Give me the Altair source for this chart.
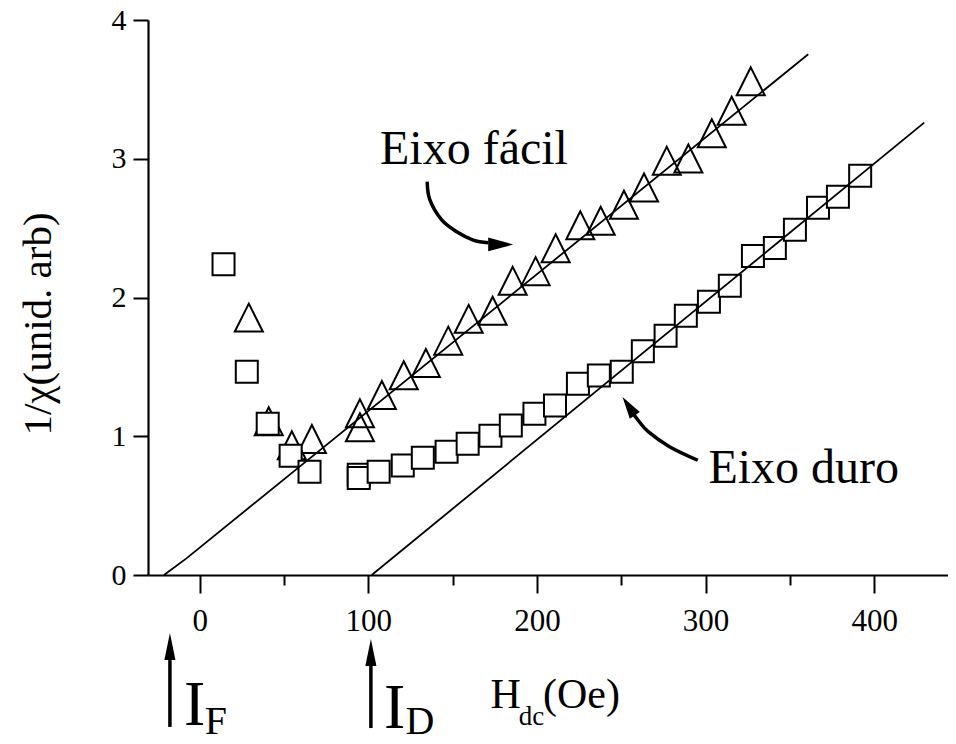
import altair as alt
import pandas as pd

# ---------------- data ----------------
# Easy axis ("Eixo fácil") – triangles
easy_h = [29.1, 40.9, 54.6, 66.5, 95.0, 95.0, 108.0, 121.0, 134.1, 147.4, 159.5, 173.7,
          185.6, 199.2, 211.1, 225.7, 237.8, 251.6, 263.5, 277.0, 289.8, 303.7, 315.5, 326.8]
easy_inv = [1.855, 1.108, 0.935, 0.98, 1.065, 1.165, 1.297, 1.44, 1.528, 1.689, 1.846, 1.904,
            2.12, 2.19, 2.355, 2.52, 2.553, 2.668, 2.793, 2.985, 3.002, 3.184, 3.346, 3.558]

# Hard axis ("Eixo duro") – squares
hard_h = [14.1, 27.9, 40.3, 53.9, 65.1, 94.3, 94.3, 106.1, 120.4, 132.3, 146.4, 158.9, 172.4,
          184.5, 198.5, 210.7, 224.3, 236.7, 250.3, 262.8, 276.3, 288.3, 302.0, 314.4, 328.1,
          341.1, 353.0, 366.7, 378.5, 391.7]
hard_inv = [2.24, 1.465, 1.09, 0.86, 0.744, 0.723, 0.699, 0.744, 0.789, 0.845, 0.889, 0.946, 1.003,
            1.077, 1.163, 1.222, 1.379, 1.438, 1.465, 1.612, 1.724, 1.869, 1.97, 2.084, 2.30,
            2.357, 2.489, 2.647, 2.727, 2.877]

# Linear fits
easy_fit_h = [-21.2, -7.9, 360.9]
easy_fit_inv = [0.0, 0.12, 3.753]
hard_fit_h = [102.0, 429.7]
hard_fit_inv = [0.0, 3.26]

# Axis ticks
x_tick_values = [0, 50, 100, 150, 200, 250, 300, 350, 400]
y_tick_values = [0, 0.25, 0.5, 0.75, 1, 1.25, 1.5, 1.75, 2, 2.25, 2.5, 2.75, 3, 3.25, 3.5, 3.75, 4]

# Annotation arrows (data coordinates)
easy_arrow_h = [134.9, 136.5, 143.5, 152.4, 162.2, 171.1]
easy_arrow_inv = [2.835, 2.703, 2.559, 2.474, 2.414, 2.395]
easy_head = (178.5, 2.382)
hard_arrow_h = [295.4, 278.6, 266.0, 259.9, 256.9]
hard_arrow_inv = [0.827, 0.925, 1.033, 1.117, 1.168]
hard_head = (254.4, 1.217)

# Field-position markers I_F, I_D
marker_h = [-17.7, 101.5]
marker_top = [-0.613, -0.649]
marker_bottom = [-1.095, -1.103]
marker_head = [-0.515, -0.559]

FONT = "'Liberation Serif', 'Times New Roman', Times, serif"
X_DOMAIN = [-30.7, 443.8]
Y_DOMAIN = [0, 4]

xscale = alt.Scale(domain=X_DOMAIN, nice=False, zero=False)
yscale = alt.Scale(domain=Y_DOMAIN, nice=False, zero=False)

x_axis = alt.Axis(
    values=x_tick_values,
    format="d",
    labelExpr="datum.value % 100 === 0 ? datum.label : ''",
    tickSize={"condition": {"test": "datum.value % 100 === 0", "value": 18}, "value": 10},
    tickWidth=2, tickColor="black", domainColor="black", domainWidth=2.2,
    labelFont=FONT, labelFontSize=31, labelColor="black", labelPadding=13,
    grid=False, title=None, labelFlush=False, labelOverlap=False,
)
y_axis = alt.Axis(
    values=y_tick_values,
    format="d",
    labelExpr="datum.value % 1 === 0 ? datum.label : ''",
    tickSize={"condition": {"test": "datum.value % 1 === 0", "value": 15}, "value": 7},
    tickWidth=2, tickColor="black", domainColor="black", domainWidth=2.2,
    labelFont=FONT, labelFontSize=30, labelColor="black", labelPadding=7,
    grid=False, title=None, labelFlush=False, labelOverlap=False,
)


def X(field="h"):
    return alt.X(f"{field}:Q", scale=xscale, axis=x_axis)


def Y(field="v"):
    return alt.Y(f"{field}:Q", scale=yscale, axis=y_axis)


easy_df = pd.DataFrame({"h": easy_h, "v": easy_inv})
hard_df = pd.DataFrame({"h": hard_h, "v": hard_inv})
easy_fit_df = pd.DataFrame({"h": easy_fit_h, "v": easy_fit_inv, "i": range(len(easy_fit_h))})
hard_fit_df = pd.DataFrame({"h": hard_fit_h, "v": hard_fit_inv, "i": range(len(hard_fit_h))})

TRI = "M0,-1L1,1L-1,1Z"
HEAD_R = "M1,0L-1,-0.55L-1,0.55Z"
HEAD_UP = "M0,-1L0.41,1L-0.41,1Z"

tri = alt.Chart(easy_df).mark_point(
    shape=TRI, size=784, filled=False, stroke="black", strokeWidth=2, opacity=1
).encode(x=X(), y=Y())

sq = alt.Chart(hard_df).mark_point(
    shape="square", size=484, filled=True, fill="white", stroke="black", strokeWidth=2, opacity=1
).encode(x=X(), y=Y())

fit_easy = alt.Chart(easy_fit_df).mark_line(color="black", strokeWidth=1.8).encode(
    x=X(), y=Y(), order="i:Q")
fit_hard = alt.Chart(hard_fit_df).mark_line(color="black", strokeWidth=1.8).encode(
    x=X(), y=Y(), order="i:Q")

# curved annotation arrows
ea_df = pd.DataFrame({"h": easy_arrow_h, "v": easy_arrow_inv, "i": range(len(easy_arrow_h))})
ha_df = pd.DataFrame({"h": hard_arrow_h, "v": hard_arrow_inv, "i": range(len(hard_arrow_h))})
ea_line = alt.Chart(ea_df).mark_line(color="black", strokeWidth=3.5, interpolate="cardinal").encode(
    x=X(), y=Y(), order="i:Q")
ha_line = alt.Chart(ha_df).mark_line(color="black", strokeWidth=3.5, interpolate="cardinal").encode(
    x=X(), y=Y(), order="i:Q")
ea_head = alt.Chart(pd.DataFrame({"h": [easy_head[0]], "v": [easy_head[1]]})).mark_point(
    shape=HEAD_R, size=625, filled=True, color="black", opacity=1, angle=0
).encode(x=X(), y=Y())
ha_head = alt.Chart(pd.DataFrame({"h": [hard_head[0]], "v": [hard_head[1]]})).mark_point(
    shape=HEAD_R, size=484, filled=True, color="black", opacity=1, angle=236
).encode(x=X(), y=Y())

# I_F / I_D vertical arrows
mk_df = pd.DataFrame({"h": marker_h, "v": marker_top, "v2": marker_bottom, "vh": marker_head})
mk_rule = alt.Chart(mk_df).mark_rule(color="black", strokeWidth=3.5).encode(
    x=X(), y=Y(), y2="v2:Q")
mk_head = alt.Chart(mk_df).mark_point(
    shape=HEAD_UP, size=729, filled=True, color="black", opacity=1
).encode(x=X(), y=Y("vh"))


def label(text, h, v, size, angle=0, align="left", baseline="alphabetic"):
    df = pd.DataFrame({"h": [h], "v": [v], "t": [text]})
    return alt.Chart(df).mark_text(
        font=FONT, fontSize=size, color="black", align=align, baseline=baseline, angle=angle
    ).encode(x=X(), y=Y(), text="t:N")


texts = [
    label("Eixo fácil", 106.9, 2.962, 48),
    label("Eixo duro", 301.7, 0.665, 48),
    label("1/χ(unid. arb)", -88.3, 1.809, 41, angle=270, align="center"),
    label("H", 172.5, -0.959, 42),
    label("dc", 189.2, -1.081, 27),
    label("(Oe)", 203.6, -0.959, 42),
    label("I", -9.4, -1.081, 64),
    label("F", 3.0, -1.146, 40),
    label("I", 109.3, -1.103, 64),
    label("D", 122.0, -1.146, 40),
]

chart = alt.layer(
    tri, sq, fit_easy, fit_hard, ea_line, ha_line, ea_head, ha_head, mk_rule, mk_head, *texts
).properties(
    width=800,
    height=555,
    padding={"left": 140, "top": 12, "right": 0, "bottom": 159},
    autosize=alt.AutoSizeParams(type="none"),
    background="white",
).configure_view(stroke=None)

chart.save("out.html", embed_options={"renderer": "svg", "actions": False})
